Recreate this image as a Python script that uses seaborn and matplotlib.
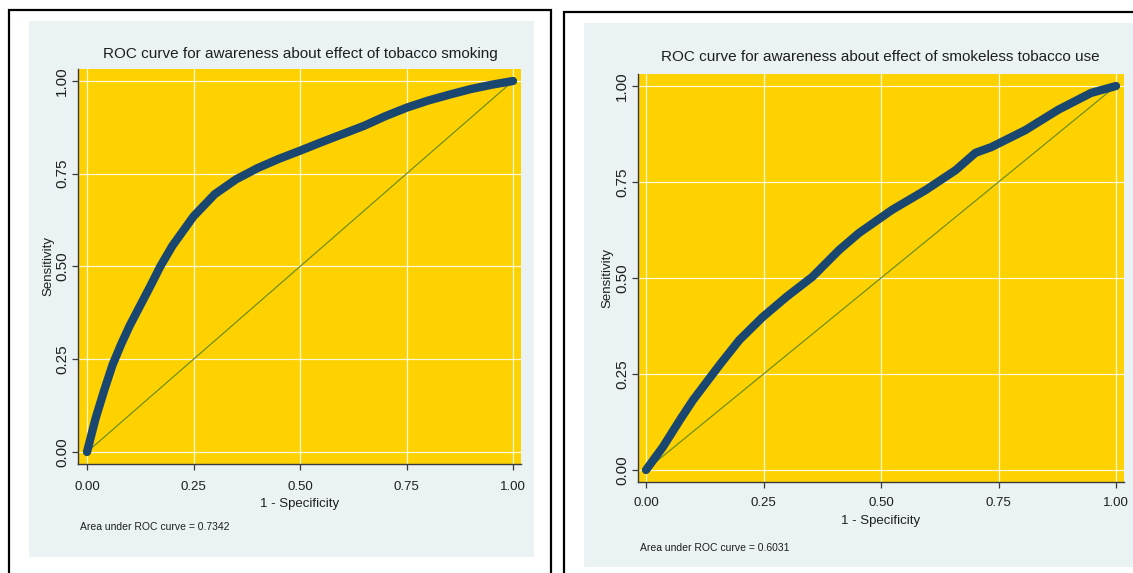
import matplotlib
matplotlib.use("Agg")
import matplotlib.pyplot as plt
from matplotlib.patches import Rectangle
import seaborn as sns
import pandas as pd

# ---------------- data ----------------
left_fpr = [0, 0.02, 0.04, 0.06, 0.08, 0.10, 0.125, 0.15, 0.172, 0.20, 0.25, 0.30, 0.35,
            0.40, 0.45, 0.50, 0.55, 0.60, 0.65, 0.70, 0.75, 0.80, 0.85, 0.90, 0.95, 1.0]
left_tpr = [0, 0.09, 0.165, 0.235, 0.29, 0.34, 0.395, 0.45, 0.50, 0.555, 0.635, 0.695, 0.735,
            0.765, 0.79, 0.812, 0.835, 0.857, 0.879, 0.905, 0.928, 0.947, 0.963, 0.978, 0.99, 1.0]

right_fpr = [0, 0.036, 0.072, 0.10, 0.142, 0.16, 0.199, 0.248, 0.299, 0.354, 0.411, 0.453,
             0.523, 0.595, 0.659, 0.701, 0.735, 0.807, 0.877, 0.947, 1.0]
right_tpr = [0, 0.06, 0.13, 0.182, 0.25, 0.279, 0.339, 0.398, 0.451, 0.503, 0.573, 0.617,
             0.677, 0.729, 0.781, 0.826, 0.841, 0.885, 0.938, 0.982, 1.0]

titles = ["ROC curve for awareness about effect of tobacco smoking",
          "ROC curve for awareness about effect of smokeless tobacco use"]
auc_labels = ["Area under ROC curve = 0.7342", "Area under ROC curve = 0.6031"]
tick_vals = [0.0, 0.25, 0.5, 0.75, 1.0]
tick_labels = ["0.00", "0.25", "0.50", "0.75", "1.00"]
xlab = "1 - Specificity"
ylab = "Sensitivity"

# ---------------- style ----------------
sns.set_theme(style="white")
FONT = ["Liberation Sans", "DejaVu Sans"]
plt.rcParams["font.family"] = FONT

W, H = 1133, 573
fig = plt.figure(figsize=(W / 100, H / 100), dpi=100)
fig.patch.set_facecolor("white")

YELLOW = "#FED200"
LIGHT = "#EAF2F3"
NAVY = "#1A476F"
GREEN = "#6F8F1E"
TXT = "#1E1E1E"


def box(x0, y0, x1, y1):
    """pixel box (top-left origin) -> figure fraction [l, b, w, h]"""
    return [x0 / W, 1 - y1 / H, (x1 - x0) / W, (y1 - y0) / H]


def rect(x0, y0, x1, y1, z, **kw):
    l, b, w, h = box(x0, y0, x1, y1)
    fig.add_artist(Rectangle((l, b), w, h, transform=fig.transFigure, zorder=z, **kw))


# panel frames (behind the axes)
rect(9, 10, 551, 600, -3, facecolor="white", edgecolor="black", linewidth=1.6)
rect(29, 21, 534, 557, -2, facecolor=LIGHT, edgecolor="none")
rect(564, 12, 1150, 600, -3, facecolor="white", edgecolor="black", linewidth=1.6)
rect(584, 23, 1133, 567, -2, facecolor=LIGHT, edgecolor="none")

panels = [
    dict(ax=(78, 69, 521, 464), x0=87, x1=513, y0=452, y1=81,
         title=(300, 54), auc=(80, 527), xlab_y=504, ylab_x=48, xpad=8,
         fpr=left_fpr, tpr=left_tpr),
    dict(ax=(638, 74, 1124, 482), x0=646, x1=1116, y0=470, y1=86,
         title=(880, 57), auc=(640, 548), xlab_y=521, ylab_x=607, xpad=6.5,
         fpr=right_fpr, tpr=right_tpr),
]

for i, p in enumerate(panels):
    ax0, ay0, ax1, ay1 = p["ax"]
    ax = fig.add_axes(box(ax0, ay0, ax1, ay1))
    ax.set_zorder(1)
    ax.set_facecolor(YELLOW)
    sx = (p["x1"] - p["x0"])
    sy = (p["y0"] - p["y1"])
    ax.set_xlim((ax0 - p["x0"]) / sx, (ax1 - p["x0"]) / sx)
    ax.set_ylim((p["y0"] - ay1) / sy, (p["y0"] - ay0) / sy)

    df = pd.DataFrame({"fpr": p["fpr"], "tpr": p["tpr"]})
    diag = pd.DataFrame({"fpr": [0, 1], "tpr": [0, 1]})
    sns.lineplot(data=diag, x="fpr", y="tpr", ax=ax, color=GREEN, linewidth=0.9,
                 sort=False, estimator=None, zorder=2)
    sns.lineplot(data=df, x="fpr", y="tpr", ax=ax, color=NAVY, linewidth=6.0,
                 sort=False, estimator=None, zorder=3, solid_capstyle="round",
                 solid_joinstyle="round")

    ax.set_xticks(tick_vals)
    ax.set_xticklabels(tick_labels)
    ax.set_yticks(tick_vals)
    ax.set_yticklabels(tick_labels, rotation=90, va="center")
    ax.grid(True, color="white", linewidth=0.9, alpha=0.85)
    ax.set_axisbelow(True)
    for s in ["top", "right"]:
        ax.spines[s].set_visible(False)
    for s in ["left", "bottom"]:
        ax.spines[s].set_color("#3A3A3A")
        ax.spines[s].set_linewidth(1.0)
    ax.tick_params(axis="both", which="both", direction="out", length=4, width=0.9,
                   color="#3A3A3A", labelcolor=TXT, left=True, bottom=True)
    ax.tick_params(axis="x", labelsize=9.5, pad=p["xpad"])
    ax.tick_params(axis="y", labelsize=11, pad=2.5)

    ax.set_xlabel(xlab, fontsize=9.5, color=TXT)
    ax.set_ylabel(ylab, fontsize=9.5, color=TXT)
    axw = ax1 - ax0
    axh = ay1 - ay0
    ax.xaxis.set_label_coords((0.5 * (p["x0"] + p["x1"]) - ax0) / axw,
                              (ay1 - p["xlab_y"]) / axh)
    ax.xaxis.label.set_va("center")
    ax.yaxis.set_label_coords((p["ylab_x"] - ax0) / axw,
                              (ay1 - 0.5 * (p["y0"] + p["y1"])) / axh)
    ax.yaxis.label.set_va("center")

    tx, ty = p["title"]
    fig.text(tx / W, 1 - ty / H, titles[i], ha="center", va="center",
             fontsize=11, color=TXT)
    axx, axy = p["auc"]
    fig.text(axx / W, 1 - axy / H, auc_labels[i], ha="left", va="center",
             fontsize=7.5, color=TXT)

fig.savefig("out.png", dpi=100, facecolor=fig.get_facecolor())
